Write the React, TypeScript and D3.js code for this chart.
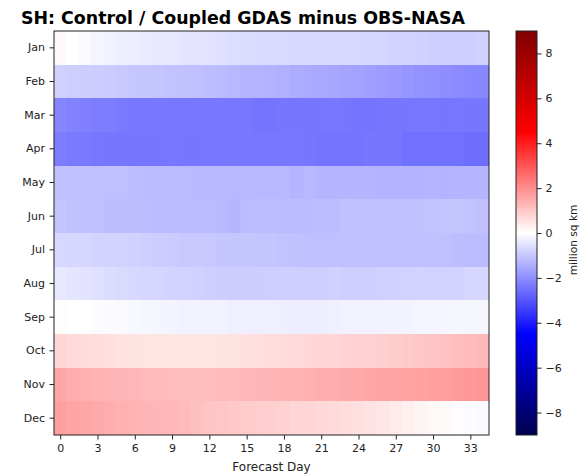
import React, { useRef, useEffect } from 'react';
import * as d3 from 'd3';

const months = ['Jan', 'Feb', 'Mar', 'Apr', 'May', 'Jun', 'Jul', 'Aug', 'Sep', 'Oct', 'Nov', 'Dec'];
const days = d3.range(0, 35);
const dayTicks = [0, 3, 6, 9, 12, 15, 18, 21, 24, 27, 30, 33];
const barTicks = [-8, -6, -4, -2, 0, 2, 4, 6, 8];

// bias (million sq km) per month, forecast day 0..34
const jan = [0.1, 0.0, -0.1, -0.18, -0.25, -0.3, -0.32, -0.36, -0.4, -0.42, -0.45, -0.47, -0.5, -0.55, -0.6, -0.62, -0.64, -0.65, -0.66, -0.67, -0.68, -0.68, -0.69, -0.7, -0.7, -0.72, -0.74, -0.77, -0.8, -0.82, -0.84, -0.85, -0.86, -0.85, -0.82];
const feb = [-0.82, -0.85, -0.88, -0.9, -0.92, -0.95, -1.0, -1.02, -1.05, -1.08, -1.1, -1.12, -1.15, -1.2, -1.25, -1.3, -1.32, -1.36, -1.4, -1.45, -1.5, -1.52, -1.55, -1.6, -1.65, -1.7, -1.75, -1.8, -1.85, -1.9, -1.95, -2.0, -2.05, -2.1, -2.12];
const mar = [-2.15, -2.2, -2.25, -2.3, -2.3, -2.35, -2.38, -2.4, -2.4, -2.38, -2.38, -2.38, -2.4, -2.4, -2.4, -2.4, -2.45, -2.45, -2.42, -2.42, -2.42, -2.42, -2.4, -2.42, -2.45, -2.45, -2.42, -2.42, -2.42, -2.4, -2.4, -2.42, -2.4, -2.42, -2.42];
const apr = [-2.3, -2.35, -2.35, -2.4, -2.42, -2.42, -2.42, -2.42, -2.42, -2.4, -2.42, -2.42, -2.4, -2.38, -2.38, -2.4, -2.4, -2.38, -2.38, -2.4, -2.42, -2.45, -2.45, -2.45, -2.45, -2.42, -2.42, -2.42, -2.5, -2.5, -2.5, -2.5, -2.5, -2.55, -2.55];
const may = [-1.1, -1.1, -1.12, -1.12, -1.12, -1.12, -1.18, -1.2, -1.2, -1.2, -1.22, -1.25, -1.25, -1.25, -1.25, -1.25, -1.25, -1.25, -1.25, -1.3, -1.25, -1.3, -1.32, -1.32, -1.32, -1.32, -1.35, -1.35, -1.35, -1.35, -1.32, -1.35, -1.3, -1.3, -1.3];
const jun = [-1.05, -1.1, -1.1, -1.12, -1.15, -1.15, -1.15, -1.15, -1.2, -1.2, -1.2, -1.2, -1.2, -1.25, -1.28, -1.2, -1.18, -1.18, -1.2, -1.2, -1.2, -1.18, -1.18, -1.1, -1.12, -1.12, -1.12, -1.1, -1.1, -1.1, -1.08, -1.05, -1.05, -1.08, -1.12];
const jul = [-0.7, -0.72, -0.72, -0.78, -0.8, -0.8, -0.82, -0.85, -0.9, -0.92, -0.95, -0.95, -0.97, -1.0, -1.0, -1.0, -1.05, -1.05, -1.08, -1.1, -1.12, -1.12, -1.12, -1.12, -1.12, -1.12, -1.1, -1.1, -1.12, -1.12, -1.12, -1.12, -1.15, -1.18, -1.2];
const aug = [-0.4, -0.45, -0.5, -0.55, -0.62, -0.65, -0.7, -0.72, -0.75, -0.78, -0.8, -0.82, -0.85, -0.88, -0.9, -0.88, -0.88, -0.85, -0.85, -0.85, -0.85, -0.85, -0.82, -0.85, -0.85, -0.85, -0.82, -0.82, -0.8, -0.78, -0.8, -0.8, -0.78, -0.72, -0.72];
const sep = [0.05, 0.0, 0.0, -0.05, -0.08, -0.1, -0.12, -0.15, -0.18, -0.2, -0.25, -0.25, -0.25, -0.25, -0.28, -0.28, -0.28, -0.28, -0.3, -0.32, -0.32, -0.3, -0.28, -0.25, -0.25, -0.25, -0.25, -0.22, -0.22, -0.18, -0.18, -0.18, -0.15, -0.15, -0.15];
const oct = [0.72, 0.65, 0.62, 0.6, 0.55, 0.52, 0.5, 0.48, 0.48, 0.48, 0.48, 0.48, 0.48, 0.5, 0.52, 0.55, 0.58, 0.6, 0.62, 0.65, 0.7, 0.72, 0.75, 0.78, 0.8, 0.82, 0.85, 0.9, 0.95, 1.0, 1.05, 1.1, 1.15, 1.2, 1.25];
const nov = [1.55, 1.45, 1.4, 1.35, 1.3, 1.28, 1.25, 1.22, 1.2, 1.18, 1.15, 1.15, 1.18, 1.2, 1.22, 1.25, 1.28, 1.3, 1.32, 1.35, 1.4, 1.45, 1.45, 1.5, 1.52, 1.55, 1.6, 1.62, 1.62, 1.65, 1.7, 1.72, 1.78, 1.82, 1.85];
const dec = [1.7, 1.6, 1.55, 1.5, 1.45, 1.4, 1.35, 1.3, 1.28, 1.25, 1.2, 1.12, 1.05, 1.0, 0.95, 0.92, 0.88, 0.85, 0.8, 0.75, 0.72, 0.68, 0.65, 0.6, 0.55, 0.5, 0.42, 0.35, 0.28, 0.2, 0.12, 0.08, 0.03, -0.05, -0.1];

const rows = [jan, feb, mar, apr, may, jun, jul, aug, sep, oct, nov, dec];

const W = 584;
const H = 475;
const FONT = '"DejaVu Sans", sans-serif';

export default function App() {
  const svgRef = useRef<SVGSVGElement>(null);

  useEffect(() => {
    document.body.style.margin = '0';
    document.body.style.overflow = 'hidden';
    const svg = d3.select(svgRef.current);
    svg.selectAll('*').remove();

    const left = 54, right = 489, top = 31, bottom = 435;
    const cbLeft = 516, cbRight = 537;

    const x = d3.scaleBand<number>().domain(days).range([left, right]).padding(0);
    const xt = d3.scaleLinear().domain([-0.5, 34.5]).range([left, right]);
    const y = d3.scaleBand<string>().domain(months).range([top, bottom]).padding(0);

    // matplotlib "seismic"
    const color = d3.scaleLinear<string>()
      .domain([-9, -4.5, 0, 4.5, 9])
      .range(['rgb(0,0,77)', 'rgb(0,0,255)', 'rgb(255,255,255)', 'rgb(255,0,0)', 'rgb(128,0,0)'])
      .interpolate(d3.interpolateRgb)
      .clamp(true);

    const cells: { m: string; d: number; v: number }[] = [];
    rows.forEach((r, i) => r.forEach((v, j) => cells.push({ m: months[i], d: days[j], v })));

    svg.append('g')
      .selectAll('rect')
      .data(cells)
      .join('rect')
      .attr('x', c => x(c.d)!)
      .attr('y', c => y(c.m)!)
      .attr('width', x.bandwidth() + 0.4)
      .attr('height', y.bandwidth() + 0.4)
      .attr('fill', c => color(c.v))
      .attr('shape-rendering', 'crispEdges');

    svg.append('rect')
      .attr('x', left).attr('y', top)
      .attr('width', right - left).attr('height', bottom - top)
      .attr('fill', 'none').attr('stroke', '#222').attr('stroke-width', 1);

    const xAxis = svg.append('g')
      .attr('transform', `translate(0,${bottom})`)
      .call(d3.axisBottom(xt).tickValues(dayTicks).tickSize(4.5).tickPadding(5).tickFormat(d3.format('d')));
    const yAxis = svg.append('g')
      .attr('transform', `translate(${left},0)`)
      .call(d3.axisLeft(y).tickSize(4.5).tickPadding(4.5));

    [xAxis, yAxis].forEach(a => {
      a.select('.domain').remove();
      a.selectAll('line').attr('stroke', '#222');
      a.selectAll('text').attr('font-family', FONT).attr('font-size', 11).attr('fill', '#222');
    });

    svg.append('text')
      .attr('x', (left + right) / 2).attr('y', 471)
      .attr('text-anchor', 'middle')
      .attr('font-family', FONT).attr('font-size', 12).attr('fill', '#222')
      .text('Forecast Day');

    svg.append('text')
      .attr('x', 243).attr('y', 24)
      .attr('text-anchor', 'middle')
      .attr('font-family', FONT).attr('font-size', 17.4).attr('font-weight', 'bold')
      .attr('fill', '#000')
      .text('SH: Control / Coupled GDAS minus OBS-NASA');

    // colorbar
    const cb = d3.scaleLinear().domain([-9, 9]).range([bottom, top]);
    const grad = svg.append('defs').append('linearGradient')
      .attr('id', 'cbgrad').attr('x1', 0).attr('y1', 1).attr('x2', 0).attr('y2', 0);
    color.domain().forEach(v => {
      grad.append('stop')
        .attr('offset', (v + 9) / 18)
        .attr('stop-color', color(v));
    });
    svg.append('rect')
      .attr('x', cbLeft).attr('y', top)
      .attr('width', cbRight - cbLeft).attr('height', bottom - top)
      .attr('fill', 'url(#cbgrad)').attr('stroke', '#222').attr('stroke-width', 1);

    const cbAxis = svg.append('g')
      .attr('transform', `translate(${cbRight},0)`)
      .call(d3.axisRight(cb).tickValues(barTicks).tickSize(4.5).tickPadding(4)
        .tickFormat(d => (+d < 0 ? '\u2212' + Math.abs(+d) : String(d))));
    cbAxis.select('.domain').remove();
    cbAxis.selectAll('line').attr('stroke', '#222');
    cbAxis.selectAll('text').attr('font-family', FONT).attr('font-size', 11).attr('fill', '#222');

    svg.append('text')
      .attr('transform', `translate(577,240) rotate(-90)`)
      .attr('text-anchor', 'middle')
      .attr('font-family', FONT).attr('font-size', 10.6).attr('fill', '#222')
      .text('million sq km');
  }, []);

  return (
    <svg ref={svgRef} width={W} height={H}
      style={{ position: 'absolute', left: 0, top: 0, display: 'block', background: '#fff' }} />
  );
}
